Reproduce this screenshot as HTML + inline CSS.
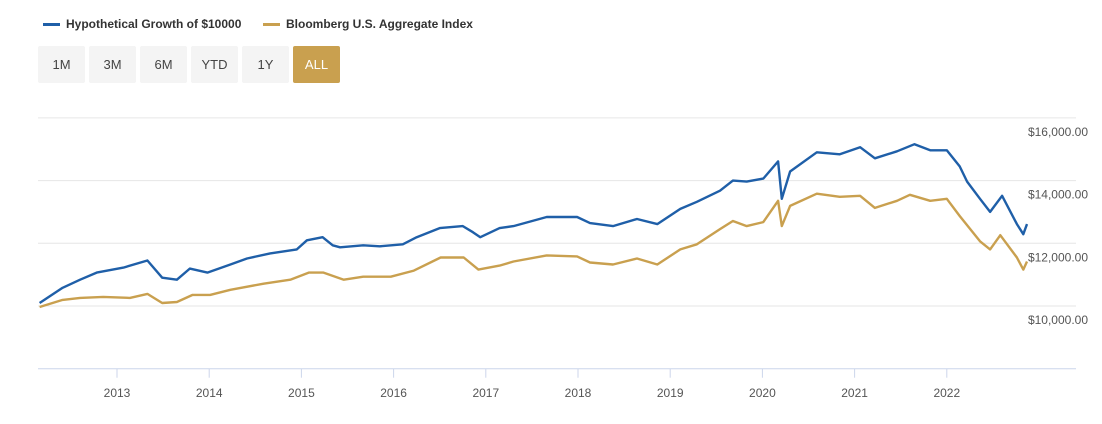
<!DOCTYPE html>
<html><head><meta charset="utf-8"><style>
body{margin:0;background:#fff;font-family:"Liberation Sans",Arial,sans-serif;}
#wrap{position:relative;width:1102px;height:424px;overflow:hidden;}
.leg{position:absolute;top:17px;font-size:12px;font-weight:bold;color:#333;display:flex;align-items:center;}
.leg i{display:inline-block;width:17px;height:3px;margin-right:6px;}
.btn{position:absolute;top:46px;width:47px;height:37px;background:#f4f4f4;border-radius:2px;font-size:13px;color:#444;text-align:center;line-height:37px;}
.btn.on{background:#c9a04f;color:#fff;}
</style></head><body>
<div id="wrap">
<div class="leg" style="left:43px"><i style="background:#1f5fa8"></i>Hypothetical Growth of $10000</div>
<div class="leg" style="left:263px"><i style="background:#c9a04f"></i>Bloomberg U.S. Aggregate Index</div>
<div class="btn" style="left:38px">1M</div>
<div class="btn" style="left:89px">3M</div>
<div class="btn" style="left:140px">6M</div>
<div class="btn" style="left:191px">YTD</div>
<div class="btn" style="left:242px">1Y</div>
<div class="btn on" style="left:293px">ALL</div>
<svg id="svg" width="1102" height="424" style="position:absolute;left:0;top:0"></svg>
</div>
<script>
const yTicks=[10000,12000,14000,16000];
const yearTicks=[2013,2014,2015,2016,2017,2018,2019,2020,2021,2022];
const blueT=[2012.16,2012.41,2012.60,2012.78,2013.07,2013.33,2013.49,2013.65,2013.79,2013.98,2014.23,2014.41,2014.66,2014.95,2015.06,2015.23,2015.34,2015.42,2015.67,2015.85,2016.10,2016.25,2016.50,2016.75,2016.86,2016.94,2017.15,2017.30,2017.66,2017.99,2018.13,2018.38,2018.64,2018.86,2019.11,2019.29,2019.54,2019.68,2019.83,2020.01,2020.17,2020.21,2020.30,2020.59,2020.84,2021.06,2021.22,2021.46,2021.65,2021.82,2022.00,2022.14,2022.22,2022.36,2022.47,2022.60,2022.76,2022.83,2022.87];
const blueV=[10097,10581,10839,11065,11226,11452,10903,10839,11194,11065,11323,11516,11677,11806,12097,12194,11935,11871,11935,11903,11968,12194,12484,12548,12355,12194,12484,12548,12839,12839,12645,12548,12774,12613,13097,13323,13677,14000,13968,14065,14613,13419,14290,14903,14839,15065,14710,14935,15161,14968,14968,14452,13968,13419,13000,13516,12613,12290,12613];
const goldT=[2012.16,2012.41,2012.60,2012.85,2013.14,2013.33,2013.49,2013.65,2013.82,2014.01,2014.23,2014.59,2014.88,2015.08,2015.24,2015.46,2015.67,2015.97,2016.22,2016.51,2016.76,2016.92,2017.15,2017.30,2017.66,2017.99,2018.13,2018.38,2018.64,2018.86,2019.11,2019.29,2019.54,2019.68,2019.83,2020.01,2020.17,2020.21,2020.30,2020.59,2020.84,2021.06,2021.22,2021.46,2021.60,2021.82,2022.00,2022.14,2022.36,2022.47,2022.58,2022.76,2022.83,2022.87];
const goldV=[9968,10194,10258,10290,10258,10387,10097,10129,10355,10355,10516,10710,10839,11065,11065,10839,10935,10935,11129,11548,11548,11161,11290,11419,11613,11581,11387,11323,11516,11323,11806,11968,12452,12710,12548,12677,13355,12548,13194,13581,13484,13516,13129,13355,13548,13355,13419,12871,12065,11806,12258,11548,11161,11419];
const svg=document.getElementById('svg');const NS='http://www.w3.org/2000/svg';
const X0=38,X1=1076;
function xS(t){return 117+(t-2013)*92.2;}
function yS(v){return 306-(v-10000)*0.03135;}
function mk(tag,a,name){const e=document.createElementNS(NS,tag);for(const k in a)e.setAttribute(k,a[k]);


svg.appendChild(e);return e;}
[8000,...yTicks].forEach(v=>{const y=yS(v);
mk('line',{x1:X0,x2:X1,y1:y,y2:y,stroke:v===8000?'#ccd6eb':'#e6e6e6','stroke-width':1},v===8000?'x-axis-line':'gridline');
if(v!==8000){const t=mk('text',{x:1088,y:y+18,'text-anchor':'end','font-size':12,fill:'#555','font-family':'Liberation Sans, Arial, sans-serif'},'y-tick-label');
t.textContent='$'+v.toLocaleString('en-US')+'.00';}});
yearTicks.forEach(yr=>{const x=xS(yr);
mk('line',{x1:x,x2:x,y1:yS(8000),y2:yS(8000)+9,stroke:'#ccd6eb'},'x-tick');
const t=mk('text',{x:x,y:397,'text-anchor':'middle','font-size':12,fill:'#555','font-family':'Liberation Sans, Arial, sans-serif'},'x-tick-label');t.textContent=yr;});
function series(T,V,c,name){mk('path',{d:T.map((t,i)=>(i?'L':'M')+xS(t).toFixed(1)+' '+yS(V[i]).toFixed(1)).join(' '),fill:'none',stroke:c,'stroke-width':2.4,'stroke-linejoin':'round'},name);}
series(goldT,goldV,'#c9a04f','bloomberg-series-line');
series(blueT,blueV,'#1f5fa8','growth-series-line');
</script>
</body></html>
